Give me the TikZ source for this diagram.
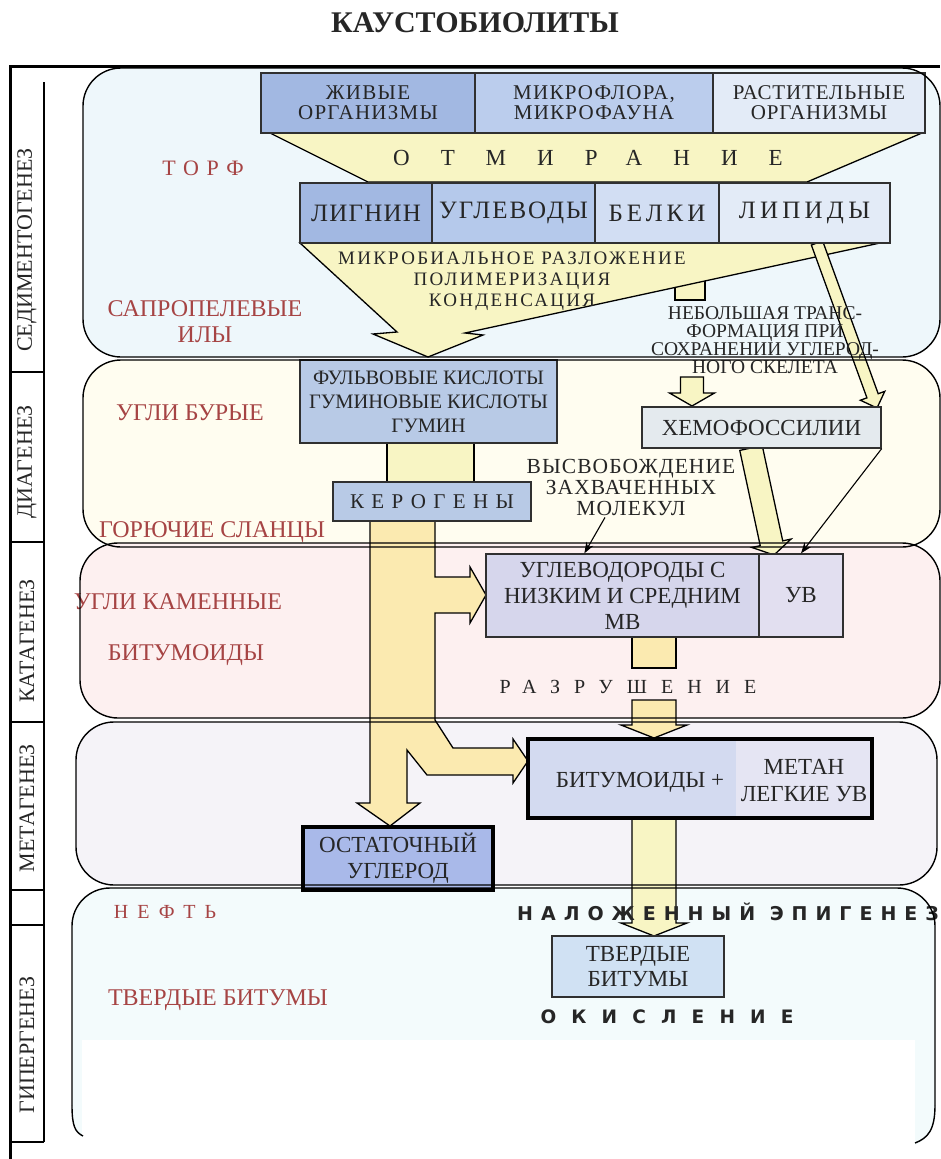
\documentclass[tikz,border=0pt]{standalone}
\usepackage{fontspec}
\setmainfont{Liberation Serif}
\newfontfamily\heavysans{DejaVu Sans}
\usepackage{tikz}
\usetikzlibrary{positioning, calc, arrows.meta}

\definecolor{ink}{HTML}{262626}
\definecolor{boxline}{HTML}{303030}
\definecolor{rockred}{HTML}{A64444}
\definecolor{sedfill}{HTML}{EEF7FB}
\definecolor{diafill}{HTML}{FFFDF0}
\definecolor{katfill}{HTML}{FDF0F0}
\definecolor{metfill}{HTML}{F5F3F8}
\definecolor{hypfill}{HTML}{F3FBFC}
\definecolor{blueA}{HTML}{A2B8E2}
\definecolor{blueB}{HTML}{B5C9EB}
\definecolor{blueC}{HTML}{D2DEF3}
\definecolor{blueD}{HTML}{E3EBF7}
\definecolor{humblue}{HTML}{B8CAE6}
\definecolor{chemgrey}{HTML}{E4EAEE}
\definecolor{lavA}{HTML}{D6D6EC}
\definecolor{lavB}{HTML}{E2DFF0}
\definecolor{bitA}{HTML}{D3DAF0}
\definecolor{bitB}{HTML}{E5E5F3}
\definecolor{restblue}{HTML}{A9B9E9}
\definecolor{solidblue}{HTML}{D0E1F3}
\definecolor{flowpale}{HTML}{F8F5C4}
\definecolor{flowdeep}{HTML}{FBEAB0}

\newcommand{\sz}[2]{\fontsize{#1}{#2}\selectfont}
\newcommand{\spaced}[1]{\addfontfeatures{LetterSpace=#1}}
% fat block arrow: from, to, shaft half width, head half width, head length
\newcommand{\fatarrow}[6][flow]{%
  \coordinate (fa-neck) at ($(#3)!#6!(#2)$);
  \draw[#1] ($(#2)!#4!90:(#3)$) -- ($(fa-neck)!#4!90:(#3)$) -- ($(fa-neck)!#5!90:(#3)$)
    -- (#3) -- ($(fa-neck)!#5!-90:(#3)$) -- ($(fa-neck)!#4!-90:(#3)$) -- ($(#2)!#4!-90:(#3)$) -- cycle;}

\begin{document}
\begin{tikzpicture}[x=1pt, y=-1pt,
  band/.style={rounded corners=38pt},
  bandline/.style={band, draw=black, line width=1.4pt},
  box/.style={draw=boxline, line width=1.3pt, inner sep=0pt, align=center, text=ink},
  heavybox/.style={box, draw=black, line width=3.6pt},
  stage/.style={rotate=90, font=\sz{22}{22}, text=ink},
  rock/.style={text=rockred, font=\sz{24}{26}, align=center, inner sep=0pt},
  note/.style={text=ink, align=center, inner sep=0pt},
  flow/.style={fill=flowpale, draw=black, line width=1.3pt, line join=miter},
  arrow/.style={-{Stealth[length=11pt, width=8pt]}, line width=1.1pt, draw=black}
]
\useasboundingbox (0,0) rectangle (940,1159);

\node[font=\sz{30}{32}\bfseries, text=ink] (title) at (475,23) {КАУСТОБИОЛИТЫ};

% stage bands
\fill[band, fill=sedfill] (83,68) rectangle (940,357);
\fill[band, fill=diafill] (83,360) rectangle (940,547);
\fill[band, fill=katfill] (80,543) rectangle (940,718);
\fill[band, fill=metfill] (76,722) rectangle (937,885);
\fill[band, fill=hypfill] (72,888) rectangle (935,1150);
\fill[white] (82,1040) rectangle (915,1159);

% frame and stage column
\draw[line width=3pt] (10,1159) -- (10,66) -- (940,66);
\draw[line width=1.3pt] (44,82) -- (44,1142);
\foreach \yy in {372,542,722,890,925,1142}
  \draw[line width=1.3pt] (10,\yy) -- (44,\yy);
\node[stage] (sed) at (27,250) {СЕДИМЕНТОГЕНЕЗ};
\node[stage] (dia) at (27,462) {ДИАГЕНЕЗ};
\node[stage] (kat) at (27,641) {КАТАГЕНЕЗ};
\node[stage] (met) at (27,808) {МЕТАГЕНЕЗ};
\node[stage] (hyp) at (27,1045) {ГИПЕРГЕНЕЗ};

% rocks
\node[rock, font=\sz{22}{22}\spaced{35}] (peat) at (203,168) {ТОРФ};
\node[rock] (sapro) at (205,322) {САПРОПЕЛЕВЫЕ\\ИЛЫ};
\node[rock] (brown) at (190,413) {УГЛИ БУРЫЕ};
\node[rock] (shale) at (212,532) {ГОРЮЧИЕ СЛАНЦЫ};
\node[rock] (hard) at (178,602) {УГЛИ КАМЕННЫЕ};
\node[rock] (bitrock) at (186,655) {БИТУМОИДЫ};
\node[rock, font=\sz{20}{20}\spaced{46}] (oil) at (165,912) {НЕФТЬ};
\node[rock] (solidrock) at (218,1000) {ТВЕРДЫЕ БИТУМЫ};

% flows
\draw[flow] (675,270) rectangle (705,300);
\draw[flow] (270,133) -- (368,182) -- (807,182) -- (922,133) -- cycle;
\draw[flow] (300,243) -- (397,332) -- (373,334) -- (428,357) -- (483,335) -- (465,333) -- (880,243) -- cycle;
\coordinate (lipfoot) at (817,243);
\coordinate (chemtop) at (877,408);
\fatarrow{lipfoot}{chemtop}{6pt}{13pt}{13pt}
\draw[flow] (387,440) rectangle (474,485);
\draw[flow, fill=flowdeep] (370,515) -- (435,515) -- (435,577) -- (470,577) -- (470,567) -- (486,595)
  -- (470,623) -- (470,613) -- (435,613) -- (435,720) -- (453,748) -- (513,748) -- (513,739)
  -- (528,761) -- (513,783) -- (513,775) -- (427,775) -- (407,750) -- (407,803) -- (420,803)
  -- (390,826) -- (357,803) -- (370,803) -- cycle;
\coordinate (skelfoot) at (692,377);
\coordinate (skelhead) at (692,406);
\fatarrow{skelfoot}{skelhead}{11.5pt}{22.5pt}{13pt}
\coordinate (chemfoot) at (751,448);
\coordinate (uvtop) at (774,555);
\fatarrow{chemfoot}{uvtop}{11.5pt}{20pt}{12pt}
\draw[flow, fill=flowdeep] (632,634) rectangle (676,668);
\coordinate (ruinfoot) at (654,700);
\coordinate (ruinhead) at (654,738);
\fatarrow[flow, fill=flowdeep]{ruinfoot}{ruinhead}{22pt}{33pt}{13pt}
\coordinate (bitfoot) at (654,818);
\coordinate (bithead) at (654,936);
\fatarrow{bitfoot}{bithead}{22pt}{33pt}{13pt}

% boxes
\node[box, fill=blueA, minimum width=214pt, minimum height=60pt, font=\sz{21}{20}\spaced{6}] (alive) at (368,103) {ЖИВЫЕ\\ОРГАНИЗМЫ};
\node[box, fill=blueB!80!blueC, minimum width=238pt, minimum height=60pt, font=\sz{21}{20}\spaced{6}] (micro) at (594,103) {МИКРОФЛОРА,\\МИКРОФАУНА};
\node[box, fill=blueD, minimum width=212pt, minimum height=60pt, font=\sz{21}{20}\spaced{4}] (plant) at (819,103) {РАСТИТЕЛЬНЫЕ\\ОРГАНИЗМЫ};
\node[box, fill=blueA, minimum width=132pt, minimum height=60pt, font=\sz{25}{25}\spaced{5}] (lignin) at (366,213) {ЛИГНИН};
\node[box, fill=blueB, minimum width=163pt, minimum height=60pt, font=\sz{25}{25}\spaced{8}] (carb) at (513.5,213) {УГЛЕВОДЫ};
\node[box, fill=blueC, minimum width=124pt, minimum height=60pt, font=\sz{25}{25}\spaced{16}] (protein) at (657,213) {БЕЛКИ};
\node[box, fill=blueD, minimum width=171pt, minimum height=60pt, font=\sz{25}{25}\spaced{17}] (lipid) at (804.5,213) {ЛИПИДЫ};
\node[box, fill=humblue, minimum width=257pt, minimum height=83pt, font=\sz{20.5}{24}] (humic) at (428.5,401.5) {ФУЛЬВОВЫЕ КИСЛОТЫ\\ГУМИНОВЫЕ КИСЛОТЫ\\ГУМИН};
\node[box, fill=humblue, minimum width=198pt, minimum height=39pt, font=\sz{21}{21}\spaced{35}] (kerogen) at (432,501.5) {КЕРОГЕНЫ};
\node[box, fill=chemgrey, minimum width=239pt, minimum height=41pt, font=\sz{23}{23}] (chemo) at (761.5,427.5) {ХЕМОФОССИЛИИ};
\node[box, fill=lavA, minimum width=273pt, minimum height=83pt, font=\sz{23}{26}] (hc) at (622.5,595.5) {УГЛЕВОДОРОДЫ С\\НИЗКИМ И СРЕДНИМ\\МВ};
\node[box, fill=lavB, minimum width=84pt, minimum height=83pt, font=\sz{23}{23}] (uv) at (801,595.5) {УВ};
\node[fill=bitA, minimum width=208pt, minimum height=79pt, inner sep=0pt] (bitl) at (632,778.5) {};
\node[fill=bitB, minimum width=136pt, minimum height=79pt, inner sep=0pt] (bitr) at (804,778.5) {};
\draw[line width=3.6pt] (bitl.north west) rectangle (bitr.south east);
\node[note, font=\sz{23}{23}] (bitmix) at (640,782) {БИТУМОИДЫ +};
\node[note, font=\sz{23}{27}] (methane) at (804,781) {МЕТАН\\ЛЕГКИЕ УВ};
\node[heavybox, fill=restblue, minimum width=190pt, minimum height=63pt, font=\sz{23}{26}] (rest) at (398,858.5) {ОСТАТОЧНЫЙ\\УГЛЕРОД};
\node[box, fill=solidblue, minimum width=172pt, minimum height=61pt, font=\sz{23}{25}] (solid) at (638,966.5) {ТВЕРДЫЕ\\БИТУМЫ};

% process labels
\node[note, font=\sz{23}{23}\spaced{135}] (dying) at (588,158) {ОТМИРАНИЕ};
\node[note, font=\sz{19}{21}\spaced{12}] (decay) at (512,281) {МИКРОБИАЛЬНОЕ РАЗЛОЖЕНИЕ\\ПОЛИМЕРИЗАЦИЯ\\КОНДЕНСАЦИЯ};
\node[note, font=\sz{19.5}{18}] (skeleton) at (765,340) {НЕБОЛЬШАЯ ТРАНС-\\ФОРМАЦИЯ ПРИ\\СОХРАНЕНИИ УГЛЕРОД-\\НОГО СКЕЛЕТА};
\node[note, font=\sz{21.5}{21}\spaced{5}] (release) at (631,487) {ВЫСВОБОЖДЕНИЕ\\ЗАХВАЧЕННЫХ\\МОЛЕКУЛ};
\node[note, font=\sz{20}{20}\spaced{70}] (ruin) at (628,687) {РАЗРУШЕНИЕ};
\node[note, anchor=west, font=\sz{19}{19}\heavysans\bfseries\spaced{42}] (epigen) at (517,912) {НАЛОЖЕННЫЙ ЭПИГЕНЕЗ};
\node[note, font=\sz{18.5}{18.5}\heavysans\bfseries\spaced{82}] (oxid) at (667,1017) {ОКИСЛЕНИЕ};

% band outlines
\draw[bandline] (83,68) rectangle (940,357);
\draw[bandline] (83,360) rectangle (940,547);
\draw[bandline] (80,543) rectangle (940,718);
\draw[bandline] (76,722) rectangle (937,885);
\draw[line width=1.4pt, rounded corners=38pt] (72,1105) -- (72,888) -- (935,888) -- (935,1105);
\draw[line width=1.4pt] (72,1105) .. controls (72,1126) and (75,1132) .. (83,1136);
\draw[line width=1.4pt] (935,1105) .. controls (935,1130) and (928,1138) .. (915,1143);

% thin connectors
\draw[arrow] (chemo.south east) -- (uv.north);
\draw[arrow] ($(release.south)+(-26,2)$) -- ($(hc.north west)+(99,0)$);

\end{tikzpicture}
\end{document}
